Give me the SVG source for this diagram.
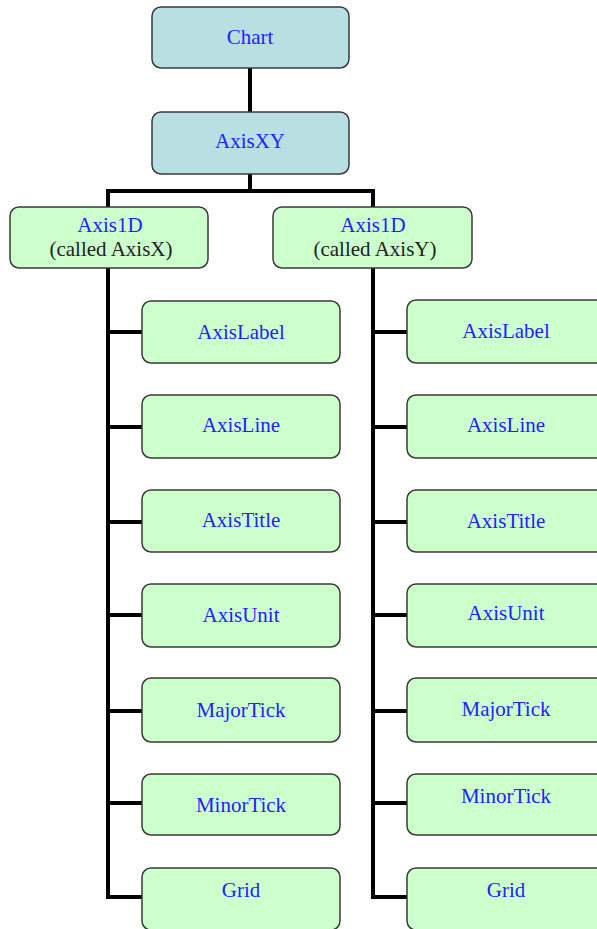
<svg xmlns="http://www.w3.org/2000/svg" width="597" height="929" viewBox="0 0 597 929">
<style>
.box{stroke:#3a3a3a;stroke-width:1.5}
.top{fill:#b8dfe2}
.leaf{fill:#ccffcc}
.t{font-family:"Liberation Serif","Times New Roman",serif;font-size:21px;fill:#2222ff;text-anchor:middle}
.k{fill:#222222}
.c{stroke:#000;stroke-width:4;fill:none;stroke-linecap:square}
</style>
<rect width="597" height="929" fill="#ffffff"/>
<g id="connectors">
<path class="c" d="M250 68V112M250 174V191M108 191H373M108 191V897M373 191V897"/>
<path class="c" d="M108 332H142M108 427H142M108 522H142M108 615H142M108 711H142M108 803H142M108 897H142"/>
<path class="c" d="M373 332H407M373 427H407M373 522H407M373 615H407M373 711H407M373 803H407M373 897H407"/>
</g>
<g id="chart"><rect class="box top" x="152" y="7" width="197" height="61" rx="9"/><text class="t" x="250" y="44">Chart</text></g>
<g id="axisxy"><rect class="box top" x="152" y="112" width="197" height="62" rx="9"/><text class="t" x="250" y="148">AxisXY</text></g>
<g id="axisx"><rect class="box leaf" x="10" y="207" width="198" height="61" rx="9"/><text class="t" x="110" y="232">Axis1D</text><text class="t k" x="111" y="256">(called AxisX)</text></g>
<g id="axisy"><rect class="box leaf" x="273" y="207" width="199" height="61" rx="9"/><text class="t" x="373" y="232">Axis1D</text><text class="t k" x="375" y="256">(called AxisY)</text></g>
<g id="x-axislabel"><rect class="box leaf" x="142" y="301" width="198" height="62" rx="9"/><text class="t" x="241" y="339">AxisLabel</text></g>
<g id="x-axisline"><rect class="box leaf" x="142" y="395" width="198" height="63" rx="9"/><text class="t" x="241" y="432">AxisLine</text></g>
<g id="x-axistitle"><rect class="box leaf" x="142" y="490" width="198" height="62" rx="9"/><text class="t" x="241" y="527">AxisTitle</text></g>
<g id="x-axisunit"><rect class="box leaf" x="142" y="584" width="198" height="63" rx="9"/><text class="t" x="241" y="622">AxisUnit</text></g>
<g id="x-majortick"><rect class="box leaf" x="142" y="678" width="198" height="64" rx="9"/><text class="t" x="241" y="717">MajorTick</text></g>
<g id="x-minortick"><rect class="box leaf" x="142" y="774" width="198" height="61" rx="9"/><text class="t" x="241" y="812">MinorTick</text></g>
<g id="x-grid"><rect class="box leaf" x="142" y="868" width="198" height="62" rx="9"/><text class="t" x="241" y="897">Grid</text></g>
<g id="y-axislabel"><rect class="box leaf" x="407" y="300" width="199" height="63" rx="9"/><text class="t" x="506" y="338">AxisLabel</text></g>
<g id="y-axisline"><rect class="box leaf" x="407" y="395" width="199" height="63" rx="9"/><text class="t" x="506" y="432">AxisLine</text></g>
<g id="y-axistitle"><rect class="box leaf" x="407" y="490" width="199" height="62" rx="9"/><text class="t" x="506" y="528">AxisTitle</text></g>
<g id="y-axisunit"><rect class="box leaf" x="407" y="584" width="199" height="63" rx="9"/><text class="t" x="506" y="620">AxisUnit</text></g>
<g id="y-majortick"><rect class="box leaf" x="407" y="678" width="199" height="64" rx="9"/><text class="t" x="506" y="716">MajorTick</text></g>
<g id="y-minortick"><rect class="box leaf" x="407" y="774" width="199" height="61" rx="9"/><text class="t" x="506" y="803">MinorTick</text></g>
<g id="y-grid"><rect class="box leaf" x="407" y="868" width="199" height="62" rx="9"/><text class="t" x="506" y="897">Grid</text></g>
</svg>
